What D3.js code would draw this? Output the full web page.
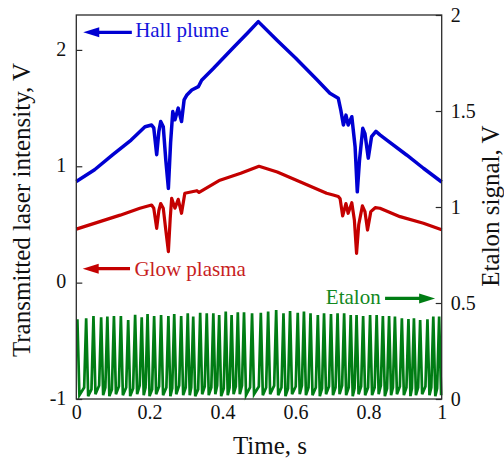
<!DOCTYPE html>
<html>
<head>
<meta charset="utf-8">
<script src="https://cdn.jsdelivr.net/npm/d3@7"></script>
<style>
  html, body { margin: 0; padding: 0; background: #fff; }
  svg { display: block; font-family: "Liberation Serif", "Times New Roman", serif; }
</style>
</head>
<body>
<svg id="chart" width="504" height="461"></svg>
<script>
// ---------------- data ----------------
const hallT = [0, 0.05, 0.10, 0.15, 0.188, 0.206, 0.212, 0.22, 0.226, 0.231, 0.238, 0.245, 0.252, 0.258, 0.264, 0.270, 0.279, 0.288, 0.295, 0.302, 0.316, 0.334, 0.343, 0.375, 0.43, 0.47, 0.498, 0.55, 0.60, 0.658, 0.694, 0.717, 0.724, 0.731, 0.738, 0.744, 0.754, 0.763, 0.769, 0.775, 0.784, 0.79, 0.799, 0.808, 0.82, 0.831, 0.849, 0.904, 0.95, 1.0];
const hallV = [0.87, 0.97, 1.10, 1.225, 1.34, 1.355, 1.33, 1.10, 1.30, 1.385, 1.34, 1.05, 0.81, 1.20, 1.47, 1.40, 1.50, 1.385, 1.57, 1.61, 1.655, 1.684, 1.74, 1.84, 2.02, 2.15, 2.243, 2.08, 1.93, 1.745, 1.627, 1.584, 1.48, 1.355, 1.44, 1.355, 1.426, 1.168, 0.78, 1.05, 1.326, 1.28, 1.07, 1.254, 1.30, 1.27, 1.226, 1.097, 0.983, 0.865];

const glowT = [0, 0.06, 0.12, 0.174, 0.206, 0.212, 0.22, 0.226, 0.231, 0.238, 0.245, 0.252, 0.257, 0.261, 0.27, 0.279, 0.288, 0.297, 0.33, 0.336, 0.393, 0.45, 0.5, 0.55, 0.612, 0.685, 0.703, 0.717, 0.722, 0.729, 0.738, 0.744, 0.754, 0.761, 0.767, 0.773, 0.783, 0.79, 0.797, 0.806, 0.818, 0.831, 0.886, 0.95, 1.0];
const glowV = [0.46, 0.52, 0.58, 0.639, 0.667, 0.64, 0.467, 0.62, 0.68, 0.64, 0.45, 0.266, 0.55, 0.725, 0.64, 0.716, 0.596, 0.768, 0.79, 0.775, 0.88, 0.94, 1.0, 0.95, 0.867, 0.768, 0.753, 0.74, 0.72, 0.573, 0.68, 0.596, 0.687, 0.538, 0.252, 0.50, 0.66, 0.61, 0.452, 0.61, 0.644, 0.639, 0.567, 0.51, 0.455];

const etalonPeakT = [0.003, 0.027, 0.047, 0.068, 0.085, 0.103, 0.122, 0.142, 0.161, 0.179, 0.195, 0.213, 0.232, 0.252, 0.268, 0.287, 0.305, 0.320, 0.339, 0.357, 0.375, 0.391, 0.409, 0.425, 0.442, 0.459, 0.481, 0.505, 0.525, 0.547, 0.567, 0.585, 0.606, 0.623, 0.641, 0.661, 0.678, 0.697, 0.715, 0.733, 0.751, 0.767, 0.785, 0.804, 0.822, 0.839, 0.856, 0.872, 0.891, 0.909, 0.924, 0.941, 0.961, 0.977, 0.993];
const etalonPeakV = [0.415, 0.42, 0.432, 0.426, 0.429, 0.432, 0.432, 0.411, 0.438, 0.426, 0.443, 0.432, 0.4375, 0.432, 0.443, 0.432, 0.446, 0.429, 0.449, 0.446, 0.446, 0.4375, 0.455, 0.4375, 0.452, 0.452, 0.446, 0.449, 0.455, 0.464, 0.446, 0.458, 0.449, 0.455, 0.446, 0.4375, 0.446, 0.443, 0.446, 0.446, 0.4375, 0.4375, 0.432, 0.4375, 0.4375, 0.432, 0.432, 0.429, 0.42, 0.417, 0.42, 0.411, 0.415, 0.429, 0.43];
// lowest point just after each fringe, and the shoulder just before the next fringe
const etalonTroughV = [0.02, 0.015, 0.025, 0.02, 0.015, 0.025, 0.02, 0.015, 0.025, 0.02, 0.015, 0.025, 0.02, 0.015, 0.025, 0.02, 0.02, 0.015, 0.025, 0.02, 0.025, 0.015, 0.02, 0.025, 0.025, 0.02, 0.025, 0.02, 0.025, 0.02, 0.015, 0.025, 0.025, 0.02, 0.02, 0.015, 0.025, 0.02, 0.025, 0.02, 0.015, 0.025, 0.02, 0.02, 0.025, 0.015, 0.02, 0.025, 0.02, 0.015, 0.02, 0.025, 0.02, 0.015, 0.02];
const etalonShoulderV = [0.06, 0.05, 0.07, 0.06, 0.05, 0.065, 0.06, 0.055, 0.07, 0.06, 0.05, 0.065, 0.06, 0.055, 0.07, 0.06, 0.06, 0.05, 0.065, 0.06, 0.07, 0.055, 0.06, 0.065, 0.07, 0.06, 0.065, 0.06, 0.07, 0.06, 0.055, 0.065, 0.07, 0.06, 0.06, 0.055, 0.065, 0.06, 0.07, 0.06, 0.055, 0.065, 0.06, 0.06, 0.07, 0.055, 0.06, 0.065, 0.06, 0.055, 0.06, 0.065, 0.06, 0.055, 0.06];
const etalonHalfWidth = 0.0055;

const xTicks = [0, 0.2, 0.4, 0.6, 0.8, 1];
const yLeftTicks = [-1, 0, 1, 2];
const yRightTicks = [0, 0.5, 1, 1.5, 2];

// ---------------- layout ----------------
const W = 504, H = 461;
const m = { left: 76.3, right: 62.3, top: 15, bottom: 62 };
const svg = d3.select("#chart");

const x = d3.scaleLinear().domain([0, 1]).range([m.left, W - m.right]);
const yL = d3.scaleLinear().domain([-1, 2.3]).range([H - m.bottom, m.top]);
const yR = d3.scaleLinear().domain([0, 2]).range([H - m.bottom, m.top]);

const BLUE = "#0000d2", RED = "#c40000", GREEN = "#007d14";
const AXC = "#2a2a2a";

// ---------------- series ----------------
const lineL = d3.line().x(d => x(d[0])).y(d => yL(d[1]));
const lineR = d3.line().x(d => x(d[0])).y(d => yR(d[1]));

// etalon
const etPts = [];
etalonPeakT.forEach((t, i) => {
  etPts.push([t, etalonPeakV[i]]);
  if (i < etalonPeakT.length - 1) {
    etPts.push([t + etalonHalfWidth, etalonTroughV[i]]);
    etPts.push([etalonPeakT[i + 1] - etalonHalfWidth, etalonShoulderV[i]]);
  } else {
    etPts.push([Math.min(1, t + etalonHalfWidth), etalonTroughV[i]]);
  }
});
svg.append("path").attr("d", lineR(etPts))
  .attr("fill", "none").attr("stroke", GREEN).attr("stroke-width", 2.7);

svg.append("path").attr("d", lineL(glowT.map((t, i) => [t, glowV[i]])))
  .attr("fill", "none").attr("stroke", RED).attr("stroke-width", 3.2).attr("stroke-linejoin", "round");

svg.append("path").attr("d", lineL(hallT.map((t, i) => [t, hallV[i]])))
  .attr("fill", "none").attr("stroke", BLUE).attr("stroke-width", 3.5).attr("stroke-linejoin", "round");

// ---------------- axes ----------------
const fmt = d => String(d);

const gL = svg.append("g").attr("transform", `translate(${m.left},0)`)
  .call(d3.axisLeft(yL).tickValues(yLeftTicks).tickFormat(fmt).tickSizeInner(-6).tickSizeOuter(0).tickPadding(10));
const gR = svg.append("g").attr("transform", `translate(${W - m.right},0)`)
  .call(d3.axisRight(yR).tickValues(yRightTicks).tickFormat(fmt).tickSizeInner(-6).tickSizeOuter(0).tickPadding(9));
const gB = svg.append("g").attr("transform", `translate(0,${H - m.bottom})`)
  .call(d3.axisBottom(x).tickValues(xTicks).tickFormat(fmt).tickSize(0).tickPadding(6));

[gL, gR, gB].forEach(g => {
  g.select(".domain").remove();
  g.selectAll(".tick line").attr("stroke", AXC).attr("stroke-width", 1.2);
  g.selectAll(".tick text").attr("fill", "#111").style("font-size", "20px")
    .style("font-family", '"Liberation Serif", "Times New Roman", serif');
});
gL.selectAll(".tick text").attr("dy", "0.26em");

// frame
svg.append("rect")
  .attr("x", m.left).attr("y", m.top)
  .attr("width", W - m.left - m.right).attr("height", H - m.top - m.bottom)
  .attr("fill", "none").attr("stroke", AXC).attr("stroke-width", 1.3);

// ---------------- titles ----------------
svg.append("text").attr("x", 270).attr("y", 454).attr("text-anchor", "middle")
  .style("font-size", "25px").attr("fill", "#111").text("Time, s");
svg.append("text").attr("transform", "translate(29.5,210) rotate(-90)").attr("text-anchor", "middle")
  .style("font-size", "25px").attr("fill", "#111").text("Transmitted laser intensity, V");
svg.append("text").attr("transform", "translate(498.5,206) rotate(-90)").attr("text-anchor", "middle")
  .style("font-size", "25px").attr("fill", "#111").text("Etalon signal, V");

// ---------------- annotations ----------------
function arrow(x1, x2, y, color) {
  // x1 = tip, x2 = tail
  const dir = Math.sign(x2 - x1);
  const headLen = 16, headHalf = 5;
  svg.append("line").attr("x1", x1 + dir * headLen * 0.8).attr("x2", x2).attr("y1", y).attr("y2", y)
    .attr("stroke", color).attr("stroke-width", 3.2);
  svg.append("path")
    .attr("d", `M${x1},${y} L${x1 + dir * headLen},${y - headHalf} L${x1 + dir * headLen},${y + headHalf} Z`)
    .attr("fill", color);
}

arrow(x(0.019), x(0.152), yL(2.151), BLUE);
svg.append("text").attr("x", x(0.161)).attr("y", yL(2.108)).style("font-size", "21px")
  .attr("fill", "#1414dc").text("Hall plume");

arrow(x(0.0175), x(0.147), yL(0.12), RED);
svg.append("text").attr("x", x(0.159)).attr("y", yL(0.057)).style("font-size", "21px")
  .attr("fill", "#c81e1e").text("Glow plasma");

arrow(x(0.982), x(0.845), yR(0.524), GREEN);
svg.append("text").attr("x", x(0.833)).attr("y", yR(0.495)).attr("text-anchor", "end").style("font-size", "21px")
  .attr("fill", "#12881e").text("Etalon");
</script>
</body>
</html>
